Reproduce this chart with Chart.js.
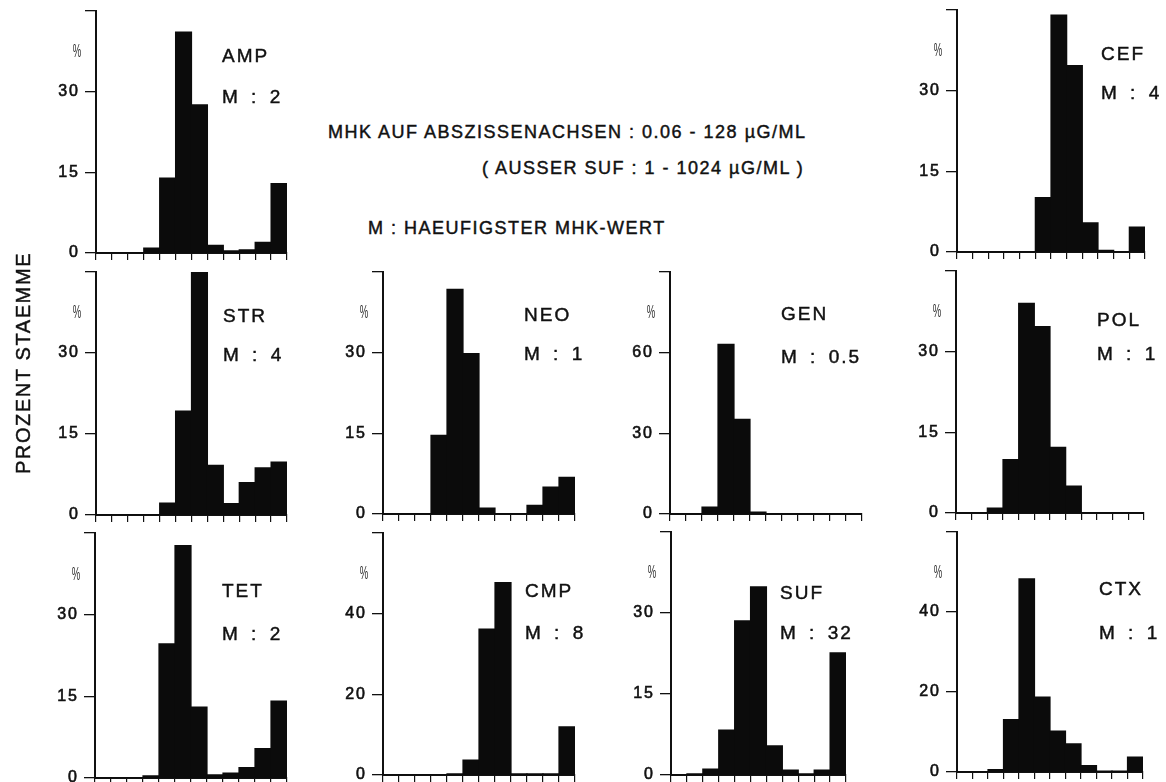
<!DOCTYPE html>
<html><head><meta charset="utf-8">
<script src="https://cdn.jsdelivr.net/npm/chart.js@4.4.1/dist/chart.umd.min.js"></script>
<style>
html,body{margin:0;padding:0;background:#fff;}
#wrap{position:relative;width:1166px;height:782px;overflow:hidden;background:#fff;font-family:"Liberation Sans",Arial,sans-serif;color:#111;}
#wrap canvas{position:absolute;}
.t{position:absolute;white-space:pre;line-height:1;-webkit-text-stroke:0.45px #111;}
.ttl{font-size:19px;letter-spacing:2px;word-spacing:4px;}
.note{font-size:18px;letter-spacing:1.5px;}
</style></head><body><div id="wrap"></div>
<script>
// ---- data ----
const MHK_BINS = ['0.06','0.125','0.25','0.5','1','2','4','8','16','32','64','128'];
const SUF_BINS = ['1','2','4','8','16','32','64','128','256','512','1024'];

const AMP = [0,0,0,0.9,13.9,41.0,27.5,1.4,0.4,0.6,2.0,12.9];
const CEF = [0,0,0,0,0,10.1,44.0,34.6,5.4,0.3,0,4.6];
const STR = [0,0,0,0,2.2,19.2,44.8,9.2,2.1,6.0,8.7,9.8];
const NEO = [0,0,0,14.6,41.7,29.8,1.1,0,0,1.6,5.0,6.8];
const GEN = [0,0,2.6,63.0,35.1,0.7,0,0,0,0,0,0];
const POL = [0,0,0.9,9.9,38.9,34.6,12.2,5.0,0,0,0,0];
const TET = [0,0,0,0.4,24.6,42.6,13.0,0.6,0.9,1.9,5.4,14.1];
const CMP = [0,0,0,0,0.3,3.7,36.1,47.6,0.3,0.3,0.3,11.9];
const SUF = [0,0.2,1.1,8.3,28.5,34.8,5.4,0.9,0.2,0.9,22.6];
const CTX = [0,0,0.6,13.1,48.2,18.7,10.2,7.0,1.6,0.2,0.2,3.7];

const NAMES = ['AMP','CEF','STR','NEO','GEN','POL','TET','CMP','SUF','CTX'];
const MODES = ['2','4','4','1','0.5','1','2','8','32','1'];
const SERIES = [AMP,CEF,STR,NEO,GEN,POL,TET,CMP,SUF,CTX];
const BINS = [MHK_BINS,MHK_BINS,MHK_BINS,MHK_BINS,MHK_BINS,MHK_BINS,MHK_BINS,MHK_BINS,SUF_BINS,MHK_BINS];
const Y_MAX = [45,45,45,45,90,45,45,60,45,60];
const Y_STEP = [15,15,15,15,30,15,15,20,15,20];

const NOTE_LINES = ['MHK AUF ABSZISSENACHSEN : 0.06 - 128 \u00B5G/ML','( AUSSER SUF : 1 - 1024 \u00B5G/ML )','M : HAEUFIGSTER MHK-WERT'];
const Y_TITLE = 'PROZENT STAEMME';

// ---- layout (page pixels) ----
// plot box: [axis x, top y, zero y, end x]
const BOX = [
  [96,10,253,287],[957,9,252,1145],
  [96,271,515,287],[383,271,514,575],[670,271,514,862],[956,270,513,1144],
  [95,532,778,287],[383,532,775,575],[671,531,775,846],[957,531,772,1143]
];
// title: [left, name center y, mode center y]
const TITLE_POS = [
  [222,55,96],[1101,53,92],
  [223,315,354],[524,314,353],[781,313,356],[1097,319,353],
  [222,590,633],[525,590,632],[780,592,632],[1099,588,632]
];
const NOTE_POS = [[328,132],[482,168],[368,228]];

const wrap = document.getElementById('wrap');
const PAD = {left:0, top:14, right:14, bottom:6};
const YW = 60, XH = 9;
const INK = '#111';

const pctPlugin = {
  id:'pct',
  beforeDraw(chart){ chart.ctx.letterSpacing = '2px'; },
  afterDraw(chart){
    const {ctx, chartArea, scales} = chart;
    const y = scales.y;
    const yy = y.getPixelForValue(y.max*0.83);
    ctx.save();
    ctx.letterSpacing = '0px';
    ctx.font = '19px "Liberation Sans"';
    ctx.fillStyle = '#333';
    ctx.translate(chartArea.left-19, yy);
    ctx.scale(0.5,1);
    ctx.textAlign = 'center';
    ctx.textBaseline = 'middle';
    ctx.fillText('%',0,0);
    ctx.restore();
  }
};

function makePanel(i){
  const [ax,ty,zy,ex] = BOX[i];
  const W = YW + (ex-ax) + PAD.right;
  const H = PAD.top + (zy-ty) + XH + PAD.bottom;
  const c = document.createElement('canvas');
  c.width = W; c.height = H;
  c.style.left = (ax-YW)+'px'; c.style.top = (ty-PAD.top)+'px';
  c.style.width = W+'px'; c.style.height = H+'px';
  wrap.appendChild(c);
  const max = Y_MAX[i];
  new Chart(c, {
    type:'bar',
    data:{labels:BINS[i], datasets:[{data:SERIES[i], backgroundColor:'#0b0b0b', borderWidth:0, inflateAmount:0.6, barPercentage:1, categoryPercentage:1}]},
    options:{
      responsive:false, animation:false, devicePixelRatio:1, events:[],
      layout:{padding:PAD, autoPadding:false},
      plugins:{legend:{display:false}, tooltip:{enabled:false}},
      scales:{
        x:{type:'category', offset:true,
           grid:{offset:true, drawOnChartArea:false, drawTicks:true, tickLength:7, color:INK, lineWidth:1.2},
           border:{display:true, color:INK, width:2},
           ticks:{display:false},
           afterFit:s=>{s.height = XH;}},
        y:{min:0, max:max,
           grid:{drawOnChartArea:false, tickLength:11, color:INK, lineWidth:1.3},
           border:{display:true, color:INK, width:2},
           ticks:{stepSize:Y_STEP[i], padding:5, color:INK, textStrokeColor:INK, textStrokeWidth:0.6,
                  font:{family:'Liberation Sans', size:16},
                  callback:v=> v===max ? '' : String(v)},
           afterFit:s=>{s.width = YW;}}
      }
    },
    plugins:[pctPlugin]
  });
}

function addText(txt, left, cy, cls, size){
  const d = document.createElement('div');
  d.className = 't '+cls;
  d.textContent = txt;
  d.style.left = left+'px';
  d.style.top = (cy - 0.49*size)+'px';
  wrap.appendChild(d);
}

for(let i=0;i<NAMES.length;i++){
  makePanel(i);
  const [l,cy1,cy2] = TITLE_POS[i];
  addText(NAMES[i], l, cy1, 'ttl', 19);
  addText('M : '+MODES[i], l, cy2, 'ttl', 19);
}
NOTE_LINES.forEach((s,k)=> addText(s, NOTE_POS[k][0], NOTE_POS[k][1], 'note', 18));

const yt = document.createElement('div');
yt.className = 't';
yt.textContent = Y_TITLE;
yt.style.cssText += 'left:23px;top:363px;font-size:20px;letter-spacing:1.6px;transform:translate(-50%,-50%) rotate(-90deg);';
wrap.appendChild(yt);
</script>
</body></html>
